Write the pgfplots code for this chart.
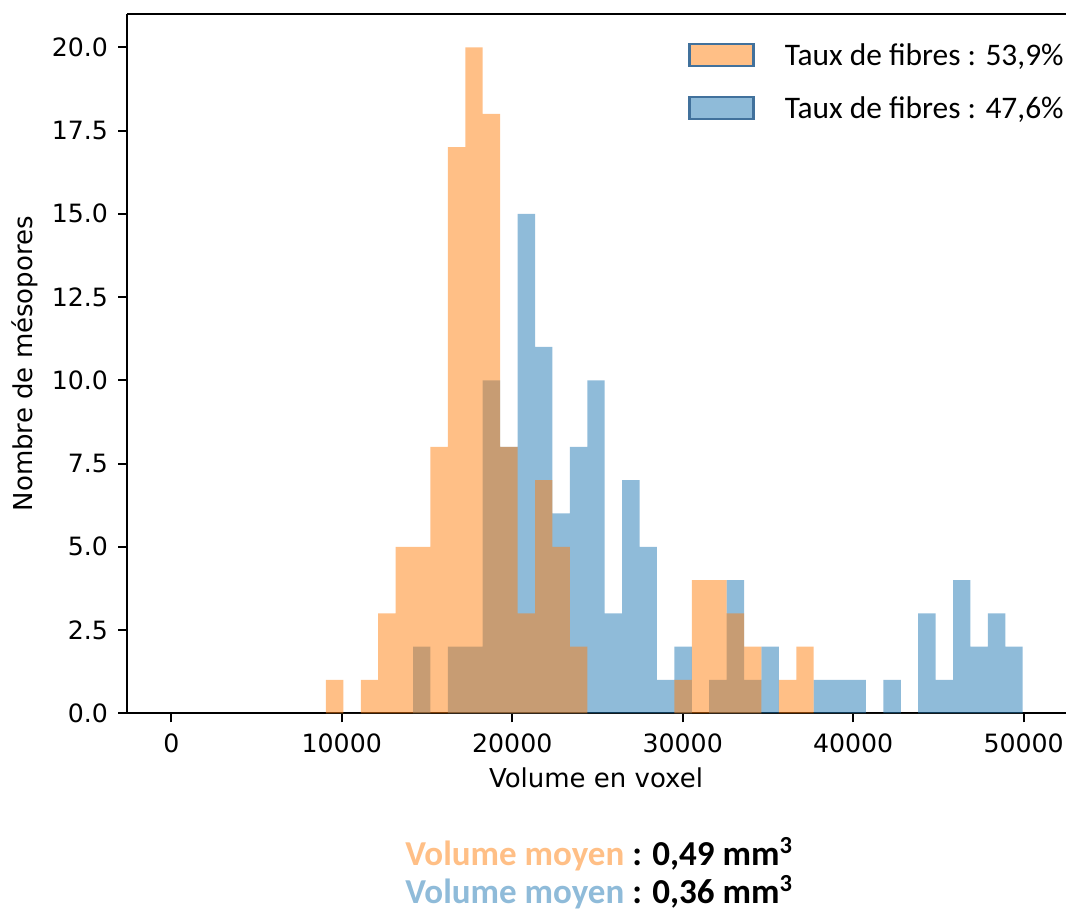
\documentclass[border=0pt]{standalone}
\usepackage{fontspec}
\setmainfont{DejaVu Sans}
\newfontfamily\calibri{Carlito}
\usepackage{pgfplots}
\usepackage{pgfplotstable}
\pgfplotsset{compat=1.18}

\definecolor{cblue}{RGB}{31,119,180}
\definecolor{corange}{RGB}{255,127,14}
\definecolor{lblue}{RGB}{143,187,217}
\definecolor{lorange}{RGB}{255,191,134}
\definecolor{patchedge}{RGB}{65,113,156}

% bin left edges, counts per bin (last row closes the interval)
\pgfplotstableread{
x      orange blue
9074   1  0
10096  0  0
11117  1  0
12139  3  0
13161  5  0
14183  5  2
15204  8  0
16226  17 2
17248  20 2
18269  18 10
19291  8  8
20313  3  15
21334  7  11
22356  5  6
23378  2  8
24400  0  10
25421  0  3
26443  0  7
27465  0  5
28486  0  1
29508  1  2
30530  4  0
31551  4  1
32573  3  4
33595  2  1
34617  0  2
35638  1  0
36660  2  0
37682  0  1
38703  0  1
39725  0  1
40747  0  0
41768  0  1
42790  0  0
43812  0  3
44834  0  1
45855  0  4
46877  0  2
47899  0  3
48920  0  2
49942  0  0
}\bins

\begin{document}
\begin{tikzpicture}
\begin{axis}[
  at={(0,0)}, anchor=south west,
  scale only axis, width=469.25pt, height=349.65pt,
  xmin=-2569, xmax=52481, ymin=0, ymax=21,
  axis x line*=box, axis y line*=left,
  xtick pos=left, ytick pos=left,
  tick align=outside, major tick length=4.5pt,
  axis line style={line width=1pt, black},
  every tick/.style={line width=1pt, black},
  xtick={0,10000,...,50000}, ytick={0,2.5,...,20},
  /pgf/number format/assume math mode=true,
  xticklabel style={font=\fontsize{12.6}{15}\selectfont, /pgf/number format/1000 sep={}},
  yticklabel style={font=\fontsize{12.6}{15}\selectfont, /pgf/number format/.cd, fixed, fixed zerofill, precision=1},
  xticklabel shift=2pt, yticklabel shift=1.7pt,
  scaled x ticks=false,
  xlabel={Volume en voxel}, ylabel={Nombre de mésopores},
  every axis x label/.style={at={(axis description cs:0.4992,-0.0925)}, anchor=center, font=\fontsize{13}{15}\selectfont},
  every axis y label/.style={at={(axis description cs:-0.1092,0.5)}, rotate=90, anchor=center, font=\fontsize{13}{15}\selectfont},
  legend image code/.code={\draw[#1] (0pt,-5.5pt) rectangle (32pt,5.5pt); \path (45pt,0pt);},
  legend style={draw=none, fill=none, inner sep=0pt, at={(axis description cs:0.5972,0.9675)}, anchor=north west,
    font=\calibri\fontsize{15.7}{18}\selectfont, row sep=8.5pt,
    nodes={inner sep=2pt, text height=12pt, text depth=2pt}},
  legend cell align=left,
]
\addplot[ybar interval, fill=cblue, fill opacity=0.5, draw=none, forget plot] table[x=x, y=blue] {\bins};
\addplot[ybar interval, fill=corange, fill opacity=0.5, draw=none, forget plot] table[x=x, y=orange] {\bins};
\addlegendimage{fill=lorange, draw=patchedge, line width=1.2pt}
\addlegendentry{Taux de fibres : 53,9\%}
\addlegendimage{fill=lblue, draw=patchedge, line width=1.2pt}
\addlegendentry{Taux de fibres : 47,6\%}
\end{axis}
\node[anchor=base west, inner sep=0pt, font=\calibri\bfseries\fontsize{17.5}{21}\selectfont] at (138.75pt,-76.35pt)
  {\textcolor{lorange}{Volume moyen} : 0,49 mm\textsuperscript{3}};
\node[anchor=base west, inner sep=0pt, font=\calibri\bfseries\fontsize{17.5}{21}\selectfont] at (138.75pt,-95.35pt)
  {\textcolor{lblue}{Volume moyen} : 0,36 mm\textsuperscript{3}};
\pgfresetboundingbox
\useasboundingbox (-63.75pt,-99.85pt) rectangle (469.25pt,356.65pt);
\end{tikzpicture}
\end{document}
